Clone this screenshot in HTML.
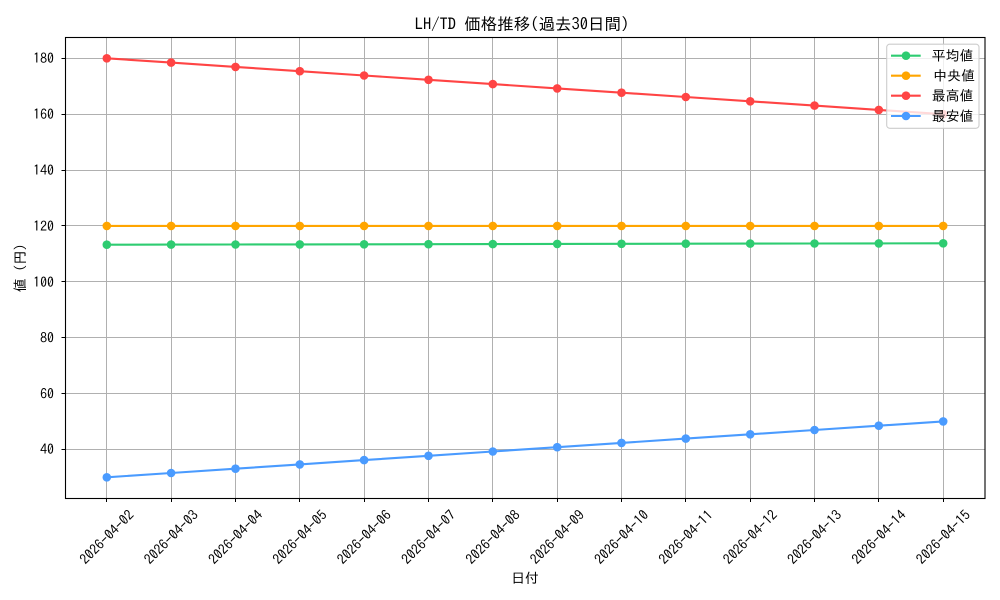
<!DOCTYPE html>
<html><head><meta charset="utf-8"><style>
html,body{margin:0;padding:0;background:#fff;}
svg{display:block;}
text{font-family:"IPAGothic","Liberation Sans","Noto Sans CJK JP",sans-serif;fill:#000;}
</style></head><body>
<svg width="1000" height="600" viewBox="0 0 1000 600" xmlns="http://www.w3.org/2000/svg">
<rect x="0" y="0" width="1000" height="600" fill="#fff"/>
<!-- grid -->
<g stroke="#b0b0b0" stroke-width="1">
<line x1="106.5" y1="37.5" x2="106.5" y2="498.5"/>
<line x1="171.5" y1="37.5" x2="171.5" y2="498.5"/>
<line x1="235.5" y1="37.5" x2="235.5" y2="498.5"/>
<line x1="299.5" y1="37.5" x2="299.5" y2="498.5"/>
<line x1="364.5" y1="37.5" x2="364.5" y2="498.5"/>
<line x1="428.5" y1="37.5" x2="428.5" y2="498.5"/>
<line x1="492.5" y1="37.5" x2="492.5" y2="498.5"/>
<line x1="557.5" y1="37.5" x2="557.5" y2="498.5"/>
<line x1="621.5" y1="37.5" x2="621.5" y2="498.5"/>
<line x1="685.5" y1="37.5" x2="685.5" y2="498.5"/>
<line x1="750.5" y1="37.5" x2="750.5" y2="498.5"/>
<line x1="814.5" y1="37.5" x2="814.5" y2="498.5"/>
<line x1="878.5" y1="37.5" x2="878.5" y2="498.5"/>
<line x1="943.5" y1="37.5" x2="943.5" y2="498.5"/>
<line x1="65.5" y1="58.5" x2="985" y2="58.5"/>
<line x1="65.5" y1="114.5" x2="985" y2="114.5"/>
<line x1="65.5" y1="170.5" x2="985" y2="170.5"/>
<line x1="65.5" y1="225.5" x2="985" y2="225.5"/>
<line x1="65.5" y1="281.5" x2="985" y2="281.5"/>
<line x1="65.5" y1="337.5" x2="985" y2="337.5"/>
<line x1="65.5" y1="393.5" x2="985" y2="393.5"/>
<line x1="65.5" y1="449.5" x2="985" y2="449.5"/>
</g>
<!-- series -->
<g fill="none" stroke-width="2.1" stroke-linejoin="round" stroke-linecap="round">
<polyline stroke="#2ecc71" points="106.8,244.7 171.1,244.6 235.5,244.5 299.8,244.4 364.1,244.3 428.5,244.2 492.8,244.1 557.2,243.9 621.5,243.8 685.8,243.7 750.2,243.6 814.5,243.5 878.8,243.4 943.2,243.3"/>
<polyline stroke="#ffa500" points="106.8,225.9 943.2,225.9"/>
<polyline stroke="#ff4444" points="106.8,58.3 171.1,62.6 235.5,66.9 299.8,71.2 364.1,75.5 428.5,79.8 492.8,84.1 557.2,88.4 621.5,92.7 685.8,97.0 750.2,101.3 814.5,105.6 878.8,109.9 943.2,114.2"/>
<polyline stroke="#4a9bff" points="106.8,477.3 171.1,473.0 235.5,468.7 299.8,464.4 364.1,460.1 428.5,455.8 492.8,451.5 557.2,447.2 621.5,442.9 685.8,438.6 750.2,434.3 814.5,430.0 878.8,425.7 943.2,421.4"/>
</g>
<g fill="#2ecc71">
<circle cx="106.8" cy="244.7" r="4.3"/><circle cx="171.1" cy="244.6" r="4.3"/><circle cx="235.5" cy="244.5" r="4.3"/><circle cx="299.8" cy="244.4" r="4.3"/><circle cx="364.1" cy="244.3" r="4.3"/><circle cx="428.5" cy="244.2" r="4.3"/><circle cx="492.8" cy="244.1" r="4.3"/><circle cx="557.2" cy="243.9" r="4.3"/><circle cx="621.5" cy="243.8" r="4.3"/><circle cx="685.8" cy="243.7" r="4.3"/><circle cx="750.2" cy="243.6" r="4.3"/><circle cx="814.5" cy="243.5" r="4.3"/><circle cx="878.8" cy="243.4" r="4.3"/><circle cx="943.2" cy="243.3" r="4.3"/>
</g>
<g fill="#ffa500">
<circle cx="106.8" cy="225.9" r="4.3"/><circle cx="171.1" cy="225.9" r="4.3"/><circle cx="235.5" cy="225.9" r="4.3"/><circle cx="299.8" cy="225.9" r="4.3"/><circle cx="364.1" cy="225.9" r="4.3"/><circle cx="428.5" cy="225.9" r="4.3"/><circle cx="492.8" cy="225.9" r="4.3"/><circle cx="557.2" cy="225.9" r="4.3"/><circle cx="621.5" cy="225.9" r="4.3"/><circle cx="685.8" cy="225.9" r="4.3"/><circle cx="750.2" cy="225.9" r="4.3"/><circle cx="814.5" cy="225.9" r="4.3"/><circle cx="878.8" cy="225.9" r="4.3"/><circle cx="943.2" cy="225.9" r="4.3"/>
</g>
<g fill="#ff4444">
<circle cx="106.8" cy="58.3" r="4.3"/><circle cx="171.1" cy="62.6" r="4.3"/><circle cx="235.5" cy="66.9" r="4.3"/><circle cx="299.8" cy="71.2" r="4.3"/><circle cx="364.1" cy="75.5" r="4.3"/><circle cx="428.5" cy="79.8" r="4.3"/><circle cx="492.8" cy="84.1" r="4.3"/><circle cx="557.2" cy="88.4" r="4.3"/><circle cx="621.5" cy="92.7" r="4.3"/><circle cx="685.8" cy="97.0" r="4.3"/><circle cx="750.2" cy="101.3" r="4.3"/><circle cx="814.5" cy="105.6" r="4.3"/><circle cx="878.8" cy="109.9" r="4.3"/><circle cx="943.2" cy="114.2" r="4.3"/>
</g>
<g fill="#4a9bff">
<circle cx="106.8" cy="477.3" r="4.3"/><circle cx="171.1" cy="473.0" r="4.3"/><circle cx="235.5" cy="468.7" r="4.3"/><circle cx="299.8" cy="464.4" r="4.3"/><circle cx="364.1" cy="460.1" r="4.3"/><circle cx="428.5" cy="455.8" r="4.3"/><circle cx="492.8" cy="451.5" r="4.3"/><circle cx="557.2" cy="447.2" r="4.3"/><circle cx="621.5" cy="442.9" r="4.3"/><circle cx="685.8" cy="438.6" r="4.3"/><circle cx="750.2" cy="434.3" r="4.3"/><circle cx="814.5" cy="430.0" r="4.3"/><circle cx="878.8" cy="425.7" r="4.3"/><circle cx="943.2" cy="421.4" r="4.3"/>
</g>
<!-- axes frame -->
<rect x="65.5" y="37.5" width="919.5" height="461" fill="none" stroke="#000" stroke-width="1.1"/>
<!-- ticks -->
<g stroke="#000" stroke-width="1">
<line x1="61.5" y1="58.5" x2="65.5" y2="58.5"/>
<line x1="61.5" y1="114.5" x2="65.5" y2="114.5"/>
<line x1="61.5" y1="170.5" x2="65.5" y2="170.5"/>
<line x1="61.5" y1="225.5" x2="65.5" y2="225.5"/>
<line x1="61.5" y1="281.5" x2="65.5" y2="281.5"/>
<line x1="61.5" y1="337.5" x2="65.5" y2="337.5"/>
<line x1="61.5" y1="393.5" x2="65.5" y2="393.5"/>
<line x1="61.5" y1="449.5" x2="65.5" y2="449.5"/>
<line x1="106.5" y1="498.5" x2="106.5" y2="502"/>
<line x1="171.5" y1="498.5" x2="171.5" y2="502"/>
<line x1="235.5" y1="498.5" x2="235.5" y2="502"/>
<line x1="299.5" y1="498.5" x2="299.5" y2="502"/>
<line x1="364.5" y1="498.5" x2="364.5" y2="502"/>
<line x1="428.5" y1="498.5" x2="428.5" y2="502"/>
<line x1="492.5" y1="498.5" x2="492.5" y2="502"/>
<line x1="557.5" y1="498.5" x2="557.5" y2="502"/>
<line x1="621.5" y1="498.5" x2="621.5" y2="502"/>
<line x1="685.5" y1="498.5" x2="685.5" y2="502"/>
<line x1="750.5" y1="498.5" x2="750.5" y2="502"/>
<line x1="814.5" y1="498.5" x2="814.5" y2="502"/>
<line x1="878.5" y1="498.5" x2="878.5" y2="502"/>
<line x1="943.5" y1="498.5" x2="943.5" y2="502"/>
</g>
<!-- y tick labels -->
<g font-size="13.9" text-anchor="end">
<text x="54" y="63">180</text>
<text x="54" y="119">160</text>
<text x="54" y="175">140</text>
<text x="54" y="231">120</text>
<text x="54" y="287">100</text>
<text x="54" y="342.5">80</text>
<text x="54" y="398.5">60</text>
<text x="54" y="454">40</text>
</g>
<!-- x tick labels -->
<g font-size="13.9" text-anchor="middle" dominant-baseline="central">
<text x="106.8" y="537" transform="rotate(-45 106.8 537)">2026-04-02</text>
<text x="171.1" y="537" transform="rotate(-45 171.1 537)">2026-04-03</text>
<text x="235.5" y="537" transform="rotate(-45 235.5 537)">2026-04-04</text>
<text x="299.8" y="537" transform="rotate(-45 299.8 537)">2026-04-05</text>
<text x="364.1" y="537" transform="rotate(-45 364.1 537)">2026-04-06</text>
<text x="428.5" y="537" transform="rotate(-45 428.5 537)">2026-04-07</text>
<text x="492.8" y="537" transform="rotate(-45 492.8 537)">2026-04-08</text>
<text x="557.2" y="537" transform="rotate(-45 557.2 537)">2026-04-09</text>
<text x="621.5" y="537" transform="rotate(-45 621.5 537)">2026-04-10</text>
<text x="685.8" y="537" transform="rotate(-45 685.8 537)">2026-04-11</text>
<text x="750.2" y="537" transform="rotate(-45 750.2 537)">2026-04-12</text>
<text x="814.5" y="537" transform="rotate(-45 814.5 537)">2026-04-13</text>
<text x="878.8" y="537" transform="rotate(-45 878.8 537)">2026-04-14</text>
<text x="943.2" y="537" transform="rotate(-45 943.2 537)">2026-04-15</text>
</g>
<!-- title and labels -->
<text x="522" y="30" font-size="16.5" text-anchor="middle">LH/TD 価格推移(過去30日間)</text>
<text x="525" y="583" font-size="13.9" text-anchor="middle">日付</text>
<text x="20" y="268" font-size="13.9" text-anchor="middle" dominant-baseline="central" transform="rotate(-90 20 268)">値 (円)</text>
<!-- legend -->
<rect x="886.7" y="44.2" width="92.3" height="84.1" rx="3" ry="3" fill="#fff" fill-opacity="0.8" stroke="#cccccc" stroke-width="1.1"/>
<g stroke-width="2.1">
<line x1="891" y1="55.7" x2="920.7" y2="55.7" stroke="#2ecc71"/>
<line x1="891" y1="75.7" x2="920.7" y2="75.7" stroke="#ffa500"/>
<line x1="891" y1="95.7" x2="920.7" y2="95.7" stroke="#ff4444"/>
<line x1="891" y1="116" x2="920.7" y2="116" stroke="#4a9bff"/>
</g>
<circle cx="906" cy="55.7" r="4.3" fill="#2ecc71"/>
<circle cx="906" cy="75.7" r="4.3" fill="#ffa500"/>
<circle cx="906" cy="95.7" r="4.3" fill="#ff4444"/>
<circle cx="906" cy="116" r="4.3" fill="#4a9bff"/>
<g font-size="13.9">
<text x="931.7" y="60.7">平均値</text>
<text x="933.2" y="80.7">中央値</text>
<text x="931.7" y="100.7">最高値</text>
<text x="931.7" y="121">最安値</text>
</g>
</svg>
</body></html>
